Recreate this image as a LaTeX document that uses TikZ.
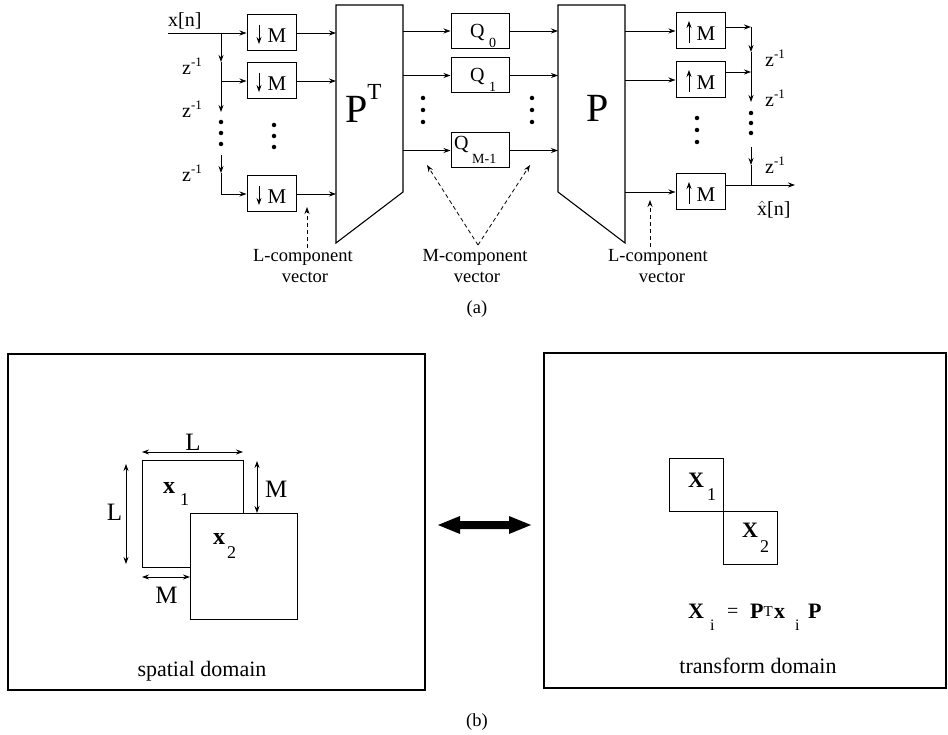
\documentclass[tikz,border=0pt]{standalone}
\usepackage{fontspec}
\setmainfont{Liberation Serif}
\usetikzlibrary{arrows.meta}
\newcommand{\fs}[1]{\fontsize{#1}{#1}\selectfont}
\begin{document}
\begin{tikzpicture}[x=1pt,y=-1pt,>={Stealth[length=7pt,width=5pt]},
 wire/.style={line width=0.8pt},
 sbox/.style={draw,line width=1pt,inner sep=0pt,minimum width=49pt,minimum height=36pt},
 qbox/.style={draw,line width=1pt,inner sep=0pt,minimum width=58pt,minimum height=35pt},
 bw/.style={inner sep=0pt,anchor=base west},
 bc/.style={inner sep=0pt,anchor=base},
 dotn/.style={circle,fill=black,inner sep=0pt,minimum size=4.5pt},
 dsh/.style={line width=0.8pt,dash pattern=on 4pt off 3pt},
 blockline/.style={line width=1.1pt},
 frame/.style={line width=1.6pt},
 dim/.style={line width=0.8pt,<->},
]
\useasboundingbox (0,0) rectangle (948,735);

% ---------------- (a) analysis side ----------------
\node[bw,font=\fs{20}] (xin) at (168,27) {x[n]};
\coordinate (in) at (168,33);
\node[sbox] (d1) at (271.5,33) {};
\node[sbox] (d2) at (271.5,81) {};
\node[sbox] (d3) at (271.5,194) {};
\coordinate (j1) at (221,33);
\coordinate (a1) at (221,62);
\coordinate (j2) at (221,81);
\coordinate (a2) at (221,112);
\coordinate (b3) at (221,155);
\coordinate (a3) at (221,173);
\coordinate (j3) at (221,194);
\draw[wire,->] (in) -- (d1.west);
\draw[wire,->] (j1) -- (a1);
\draw[wire] (a1) -- (j2);
\draw[wire,->] (j2) -- (d2.west);
\draw[wire,->] (j2) -- (a2);
\node[dotn] (ld1) at (221,122) {};
\node[dotn] (ld2) at (221,133) {};
\node[dotn] (ld3) at (221,144) {};
\draw[wire,->] (b3) -- (a3);
\draw[wire] (a3) -- (j3);
\draw[wire,->] (j3) -- (d3.west);
\node[bw,font=\fs{20}] (zl1) at (182,75) {z\raisebox{8pt}{\fs{13}-1}};
\node[bw,font=\fs{20}] (zl2) at (182,118) {z\raisebox{8pt}{\fs{13}-1}};
\node[bw,font=\fs{20}] (zl3) at (182,182) {z\raisebox{8pt}{\fs{13}-1}};
\foreach \b in {d1,d2,d3}{
  \draw[wire,->] ([shift={(-12.5,-8)}]\b.center) -- ([shift={(-12.5,11)}]\b.center);
  \node[bw,font=\fs{21}] (\b m) at ([shift={(-4,9.5)}]\b.center) {M};
}
\node[dotn] (dd1) at (274,125) {};
\node[dotn] (dd2) at (274,136) {};
\node[dotn] (dd3) at (274,147) {};

% P^T block
\coordinate (pta) at (336,5);
\coordinate (ptb) at (403,5);
\coordinate (ptc) at (403,192);
\coordinate (ptd) at (336,243);
\draw[blockline] (pta) -- (ptb) -- (ptc) -- (ptd) -- cycle;
\node[bw,font=\fs{40}] (ptl) at (345,123) {P\raisebox{23pt}{\fs{23}T}};
\coordinate (pti1) at (336,33);
\coordinate (pti2) at (336,81);
\coordinate (pti3) at (336,194);
\draw[wire,->] (d1.east) -- (pti1);
\draw[wire,->] (d2.east) -- (pti2);
\draw[wire,->] (d3.east) -- (pti3);

% Q blocks
\node[qbox] (q0) at (480,31) {};
\node[qbox] (q1) at (480,75.5) {};
\node[qbox] (q2) at (480,150.5) {};
\node[bw,font=\fs{20}] (q0l) at ([shift={(-10,6.5)}]q0.center) {Q};
\node[bw,font=\fs{14}] (q0s) at ([shift={(9,17)}]q0.center) {0};
\node[bw,font=\fs{20}] (q1l) at ([shift={(-10,6.5)}]q1.center) {Q};
\node[bw,font=\fs{14}] (q1s) at ([shift={(9,16.5)}]q1.center) {1};
\node[bw,font=\fs{20}] (q2l) at ([shift={(-26,-0.5)}]q2.center) {Q};
\node[bw,font=\fs{14}] (q2s) at ([shift={(-8,13)}]q2.center) {M-1};
\coordinate (pto1) at (403,31);
\coordinate (pto2) at (403,75.5);
\coordinate (pto3) at (403,150.5);
\draw[wire,->] (pto1) -- (q0.west);
\draw[wire,->] (pto2) -- (q1.west);
\draw[wire,->] (pto3) -- (q2.west);
\node[dotn] (md1) at (423,98) {};
\node[dotn] (md2) at (423,110) {};
\node[dotn] (md3) at (423,122) {};
\node[dotn] (me1) at (532,98) {};
\node[dotn] (me2) at (532,110) {};
\node[dotn] (me3) at (532,122) {};

% P block
\coordinate (pa) at (558,5);
\coordinate (pb) at (625,5);
\coordinate (pc) at (625,243);
\coordinate (pd) at (558,192);
\draw[blockline] (pa) -- (pb) -- (pc) -- (pd) -- cycle;
\node[bw,font=\fs{40}] (pl) at (586,122) {P};
\coordinate (pi1) at (558,31);
\coordinate (pi2) at (558,75.5);
\coordinate (pi3) at (558,150.5);
\draw[wire,->] (q0.east) -- (pi1);
\draw[wire,->] (q1.east) -- (pi2);
\draw[wire,->] (q2.east) -- (pi3);

% synthesis side
\node[sbox] (u1) at (700.5,31) {};
\node[sbox] (u2) at (700.5,80) {};
\node[sbox] (u3) at (700.5,192) {};
\coordinate (po1) at (625,31);
\coordinate (po2) at (625,80);
\coordinate (po3) at (625,192);
\draw[wire,->] (po1) -- (u1.west);
\draw[wire,->] (po2) -- (u2.west);
\draw[wire,->] (po3) -- (u3.west);
\foreach \b in {u1,u2,u3}{
  \draw[wire,->] ([shift={(-11.5,12)}]\b.center) -- ([shift={(-11.5,-10)}]\b.center);
  \node[bw,font=\fs{21}] (\b m) at ([shift={(-4,10)}]\b.center) {M};
}
\node[dotn] (ud1) at (697,118) {};
\node[dotn] (ud2) at (697,130) {};
\node[dotn] (ud3) at (697,142) {};
\coordinate (r1) at (751,27);
\coordinate (ra1) at (751,52);
\coordinate (r2) at (751,72);
\coordinate (ra2) at (751,102);
\coordinate (rb3) at (751,147);
\coordinate (ra3) at (751,165);
\coordinate (r3) at (751,185);
\coordinate (out) at (795,185);
\draw[wire,->] ([yshift=4pt]u1.east) -- (r1);
\draw[wire,->] (r1) -- (ra1);
\draw[wire] (ra1) -- (r2);
\draw[wire,->] ([yshift=8pt]u2.east) -- (r2);
\draw[wire,->] (r2) -- (ra2);
\node[dotn] (rd1) at (751,113) {};
\node[dotn] (rd2) at (751,123) {};
\node[dotn] (rd3) at (751,133) {};
\draw[wire,->] (rb3) -- (ra3);
\draw[wire] (ra3) -- (r3);
\draw[wire,->] ([yshift=7pt]u3.east) -- (out);
\node[bw,font=\fs{20}] (zr1) at (765,67) {z\raisebox{8pt}{\fs{13}-1}};
\node[bw,font=\fs{20}] (zr2) at (765,107) {z\raisebox{8pt}{\fs{13}-1}};
\node[bw,font=\fs{20}] (zr3) at (765,174) {z\raisebox{8pt}{\fs{13}-1}};
\node[bw,font=\fs{20}] (xout) at (757,216) {$\hat{\mbox{x}}$[n]};

% dashed pointers and captions
\coordinate (lc0) at (307,248);
\coordinate (lc1) at (307,207);
\coordinate (mc0) at (478,245);
\coordinate (mc1) at (427,165);
\coordinate (mc2) at (530,165);
\coordinate (rc0) at (650,247);
\coordinate (rc1) at (650,200);
\draw[dsh,->] (lc0) -- (lc1);
\draw[dsh,->] (mc0) -- (mc1);
\draw[dsh,->] (mc0) -- (mc2);
\draw[dsh,->] (rc0) -- (rc1);
\node[bc,font=\fs{18.5}] (lcl) at (303,262) {L-component};
\node[bc,font=\fs{18.5}] (lcv) at (305,283) {vector};
\node[bc,font=\fs{18.5}] (mcl) at (475,262) {M-component};
\node[bc,font=\fs{18.5}] (mcv) at (477,283) {vector};
\node[bc,font=\fs{18.5}] (rcl) at (658,262) {L-component};
\node[bc,font=\fs{18.5}] (rcv) at (662,283) {vector};
\node[bc,font=\fs{18.5}] (capa) at (477,314) {(a)};

% ---------------- (b) ----------------
\draw[frame] (8,354) rectangle (425,690);
\draw[frame] (544,353) rectangle (946,688);
\draw[line width=1pt] (142,460) rectangle (243,567);
\draw[line width=1pt,fill=white] (190,513) rectangle (297,619);
\coordinate (lh0) at (142,452);
\coordinate (lh1) at (243,452);
\coordinate (lv0) at (126,464);
\coordinate (lv1) at (126,564);
\coordinate (mv0) at (257,461);
\coordinate (mv1) at (257,513);
\coordinate (mh0) at (142,577);
\coordinate (mh1) at (190,577);
\draw[dim] (lh0) -- (lh1);
\draw[dim] (lv0) -- (lv1);
\draw[dim] (mv0) -- (mv1);
\draw[dim] (mh0) -- (mh1);
\node[bc,font=\fs{25}] (Lh) at (193,450) {L};
\node[bc,font=\fs{25}] (Lv) at (114.5,520) {L};
\node[bw,font=\fs{25}] (Mv) at (265,497) {M};
\node[bc,font=\fs{25}] (Mh) at (166.5,603) {M};
\node[bw,font=\fs{24}\bfseries] (x1) at (163,493) {x};
\node[bw,font=\fs{18}] (x1s) at (180,505) {1};
\node[bw,font=\fs{24}\bfseries] (x2) at (213,544) {x};
\node[bw,font=\fs{18}] (x2s) at (227,558) {2};
\node[bc,font=\fs{22}] (spd) at (202,676) {spatial domain};

\fill (438,525) -- (460,516) -- (460,521) -- (509,521) -- (509,516) -- (531,525)
  -- (509,534) -- (509,529) -- (460,529) -- (460,534) -- cycle;

\draw[line width=1pt] (669,458) rectangle (723,511);
\draw[line width=1pt] (723,511) rectangle (777,564);
\node[bw,font=\fs{22}\bfseries] (X1) at (688,487) {X};
\node[bw,font=\fs{18}] (X1s) at (707,500) {1};
\node[bw,font=\fs{22}\bfseries] (X2) at (742,537) {X};
\node[bw,font=\fs{18}] (X2s) at (760,552) {2};
\node[bw,font=\fs{22}\bfseries] (eX) at (688,618) {X};
\node[bw,font=\fs{16}] (ei1) at (710,630) {i};
\node[bw,font=\fs{20}] (eq) at (727,617) {=};
\node[bw,font=\fs{22}\bfseries] (eP) at (750,618) {P};
\node[bw,font=\fs{15}] (eT) at (763.5,616) {T};
\node[bw,font=\fs{22}\bfseries] (ex) at (774,618) {x};
\node[bw,font=\fs{16}] (ei2) at (795,630) {i};
\node[bw,font=\fs{22}\bfseries] (eP2) at (808,618) {P};
\node[bc,font=\fs{22}] (trd) at (758,673) {transform domain};

\node[bc,font=\fs{18.5}] (capb) at (477,726) {(b)};
\end{tikzpicture}
\end{document}
